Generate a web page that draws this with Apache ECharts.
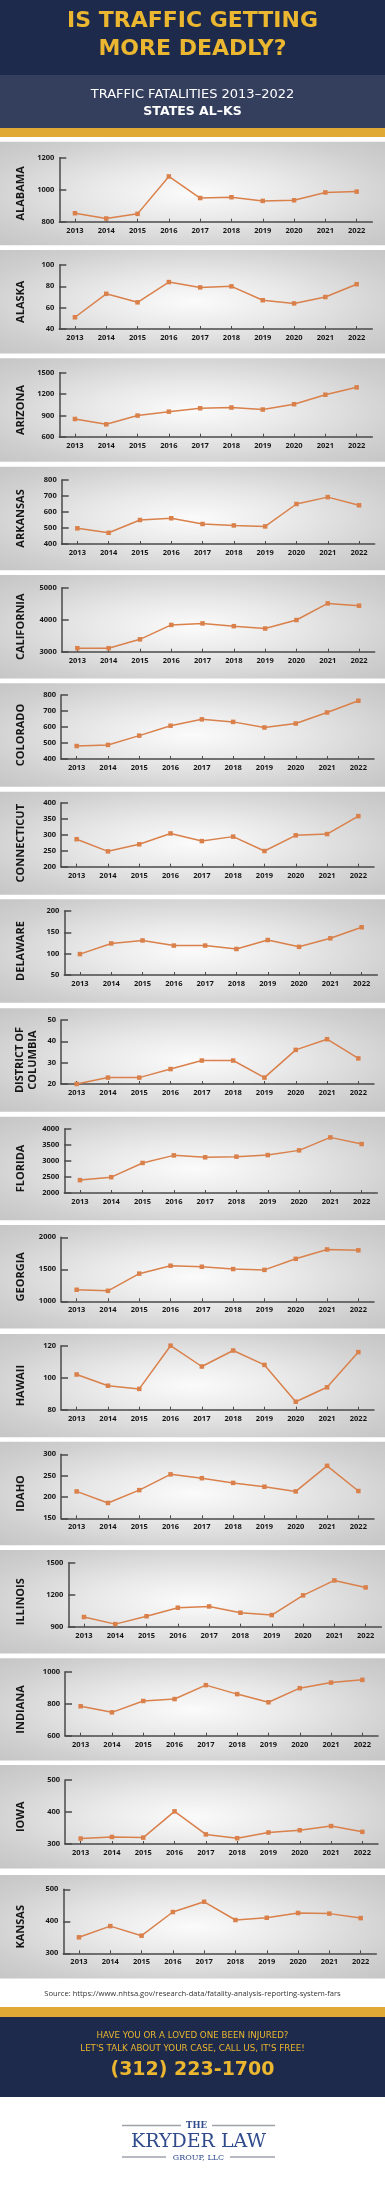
<!DOCTYPE html>
<html><head><meta charset="utf-8">
<script src="https://cdn.jsdelivr.net/npm/echarts@6/dist/echarts.min.js"></script>
<style>html,body{margin:0;padding:0;background:#fff}#c{width:385px;height:2200px}</style>
</head><body><div id="c"></div>
<script>
// ---- data ----
const years = ['2013','2014','2015','2016','2017','2018','2019','2020','2021','2022'];
const stateNames = ['ALABAMA','ALASKA','ARIZONA','ARKANSAS','CALIFORNIA','COLORADO','CONNECTICUT','DELAWARE','DISTRICT OF\nCOLUMBIA','FLORIDA','GEORGIA','HAWAII','IDAHO','ILLINOIS','INDIANA','IOWA','KANSAS'];
const alabama     = [853, 820, 849, 1083, 948, 953, 930, 934, 983, 988];
const alaska      = [51, 73, 65, 84, 79, 80, 67, 64, 70, 82];
const arizona     = [849, 774, 897, 952, 1000, 1010, 982, 1057, 1190, 1294];
const arkansas    = [498, 470, 550, 561, 525, 516, 510, 650, 693, 642];
const california  = [3110, 3110, 3387, 3837, 3884, 3798, 3725, 3990, 4510, 4437];
const colorado    = [481, 488, 546, 608, 648, 632, 597, 622, 691, 764];
const connecticut = [286, 248, 270, 304, 280, 294, 249, 298, 302, 358];
const delaware    = [99, 124, 131, 119, 119, 111, 132, 116, 136, 162];
const dc          = [20, 23, 23, 27, 31, 31, 23, 36, 41, 32];
const florida     = [2403, 2494, 2939, 3176, 3116, 3135, 3185, 3332, 3738, 3530];
const georgia     = [1180, 1164, 1432, 1556, 1540, 1504, 1491, 1664, 1810, 1797];
const hawaii      = [102, 95, 93, 120, 107, 117, 108, 85, 94, 116];
const idaho       = [213, 186, 216, 253, 244, 233, 224, 213, 273, 214];
const illinois    = [991, 924, 998, 1078, 1090, 1031, 1009, 1194, 1334, 1268];
const indiana     = [784, 746, 817, 829, 916, 860, 809, 897, 932, 949];
const iowa        = [317, 322, 320, 402, 330, 318, 336, 343, 356, 338];
const kansas      = [350, 385, 355, 429, 461, 404, 411, 426, 424, 410];
const seriesData = [alabama, alaska, arizona, arkansas, california, colorado, connecticut, delaware, dc, florida, georgia, hawaii, idaho, illinois, indiana, iowa, kansas];
const yMin      = [800, 40, 600, 400, 3000, 400, 200, 50, 20, 2000, 1000, 80, 150, 900, 600, 300, 300];
const yMax      = [1200, 100, 1500, 800, 5000, 800, 400, 200, 50, 4000, 2000, 120, 300, 1500, 1000, 500, 500];
const yInterval = [200, 20, 300, 100, 1000, 100, 50, 50, 10, 500, 500, 20, 50, 300, 200, 100, 100];

// ---- layout (positions only) ----
const panelTop = [141.7,250,358.3,466.7,575,683.3,791.7,899.3,1008.3,1116.7,1225,1334,1441.7,1550,1658.3,1765,1875];
const plotTop  = [157.7,265,372.7,480,587.7,695,802.7,911,1020,1129,1237.3,1345.7,1454.3,1562.7,1671.7,1780,1889.3];
const gridLeft = [59.3,59.3,59.3,61.7,61.7,61,61,64.3,61,64.3,61,61,61,68.3,65,65,63.3];
const W = 385, PLOT_W = 313, PLOT_H = 64, PANEL_H = 103.5;

const ORANGE = '#d9804b', AXIS = '#4a4a4a', LABEL = '#161616';
const GOLD = '#ebb630', NAVY = '#1d2a4b';
const grids = [], xAxes = [], yAxes = [], series = [], graphics = [];

function txt(x, y, text, font, fill, extra) {
  return Object.assign({type:'text', x, y, z: 5,
    style: {text, font, fill, align:'center', verticalAlign:'middle', textAlign:'center', textVerticalAlign:'middle'}}, extra || {});
}

// header
graphics.push({type:'rect', z:-10, shape:{x:0,y:0,width:W,height:75}, style:{fill:NAVY}});
graphics.push({type:'rect', z:-10, shape:{x:0,y:75,width:W,height:53}, style:{fill:'#343f5e'}});
graphics.push({type:'rect', z:-10, shape:{x:0,y:128,width:W,height:9}, style:{fill:'#e0a935'}});
graphics.push(txt(192.5, 21, 'IS TRAFFIC GETTING', 'bold 22px "DejaVu Sans"', GOLD));
graphics.push(txt(192.5, 49, 'MORE DEADLY?', 'bold 22px "DejaVu Sans"', GOLD));
graphics.push(txt(192.5, 95, 'TRAFFIC FATALITIES 2013–2022', '13px "DejaVu Sans"', '#ffffff'));
graphics.push(txt(192.5, 112, 'STATES AL–KS', 'bold 12.5px "DejaVu Sans"', '#ffffff'));

stateNames.forEach((name, i) => {
  const ph = (i < panelTop.length - 1) ? Math.min(PANEL_H, panelTop[i+1] - panelTop[i] - 4.5) : PANEL_H;
  const sx = W / ph;
  graphics.push({type:'rect', z:-10, x:0, y:panelTop[i], scaleX:sx,
    shape:{x:0,y:0,width:ph,height:ph},
    style:{fill:{type:'radial', x:0.5, y:0.5, r:0.85,
      colorStops:[{offset:0,color:'#fbfbfb'},{offset:0.3,color:'#e9e9e9'},{offset:0.65,color:'#cfcfcf'},{offset:1,color:'#bdbdbd'}]}}});
  const multi = name.indexOf('\n') >= 0;
  graphics.push(txt(multi ? 26.5 : 21, panelTop[i] + ph/2, name, 'bold 11px "Open Sans"', LABEL,
    {rotation: Math.PI/2, style:{text:name, font:'bold 11px "Open Sans"', fill:LABEL, align:'center', verticalAlign:'middle', textAlign:'center', textVerticalAlign:'middle', lineHeight:13}}));

  grids.push({left: gridLeft[i], top: plotTop[i], width: PLOT_W, height: PLOT_H});
  xAxes.push({type:'category', gridIndex:i, data: years, boundaryGap:true,
    axisLine:{show:true, lineStyle:{color:AXIS, width:1.5}},
    axisTick:{show:true, alignWithLabel:true, inside:true, length:3, lineStyle:{color:AXIS, width:1}},
    axisLabel:{fontSize:7.5, fontWeight:'bold', fontFamily:'Open Sans', color:LABEL, margin:5},
    splitLine:{show:false}});
  yAxes.push({type:'value', gridIndex:i, min:yMin[i], max:yMax[i], interval:yInterval[i],
    axisLine:{show:true, lineStyle:{color:AXIS, width:1.5}},
    axisTick:{show:true, inside:true, length:7, lineStyle:{color:AXIS, width:1.5}},
    axisLabel:{fontSize:7.5, fontWeight:'bold', fontFamily:'Open Sans', color:LABEL, margin:5, formatter: v => String(v)},
    splitLine:{show:false}});
  series.push({type:'line', xAxisIndex:i, yAxisIndex:i, data: seriesData[i],
    symbol:'rect', symbolSize:4.5, showSymbol:true,
    lineStyle:{color:ORANGE, width:1.5}, itemStyle:{color:ORANGE}, animation:false});
});

// footer
graphics.push(txt(192.5, 1993.5, 'Source: https://www.nhtsa.gov/research-data/fatality-analysis-reporting-system-fars', '7.6px "Open Sans"', '#333333'));
graphics.push({type:'rect', z:-10, shape:{x:0,y:2007,width:W,height:10}, style:{fill:'#e0a935'}});
graphics.push({type:'rect', z:-10, shape:{x:0,y:2017,width:W,height:80}, style:{fill:NAVY}});
graphics.push(txt(192.5, 2036, 'HAVE YOU OR A LOVED ONE BEEN INJURED?', '8.7px "DejaVu Sans"', GOLD));
graphics.push(txt(192.5, 2048.5, "LET'S TALK ABOUT YOUR CASE, CALL US, IT'S FREE!", '8.7px "DejaVu Sans"', GOLD));
graphics.push(txt(192.5, 2070.5, '(312) 223-1700', 'bold 19px "DejaVu Sans"', GOLD));
// logo
const BLUE = '#2f4b8c', LINE = '#9ea3ab';
graphics.push({type:'line', shape:{x1:122,y1:2125.5,x2:181,y2:2125.5}, style:{stroke:LINE, lineWidth:1.5}});
graphics.push({type:'line', shape:{x1:212,y1:2125.5,x2:275,y2:2125.5}, style:{stroke:LINE, lineWidth:1.5}});
graphics.push({type:'line', shape:{x1:122,y1:2157,x2:166,y2:2157}, style:{stroke:LINE, lineWidth:1.5}});
graphics.push({type:'line', shape:{x1:230,y1:2157,x2:275,y2:2157}, style:{stroke:LINE, lineWidth:1.5}});
graphics.push(txt(196.5, 2126, 'THE', 'bold 8.5px "DejaVu Serif"', BLUE));
graphics.push(txt(198.5, 2142, 'KRYDER LAW', '19px "DejaVu Serif"', BLUE));
graphics.push(txt(198.5, 2157.5, 'GROUP, LLC', '8px "DejaVu Serif"', BLUE));

const chart = echarts.init(document.getElementById('c'), null, {renderer:'canvas', width:385, height:2200});
chart.setOption({animation:false, backgroundColor:'#ffffff', grid:grids, xAxis:xAxes, yAxis:yAxes, series, graphic:{elements:graphics}});
</script></body></html>
